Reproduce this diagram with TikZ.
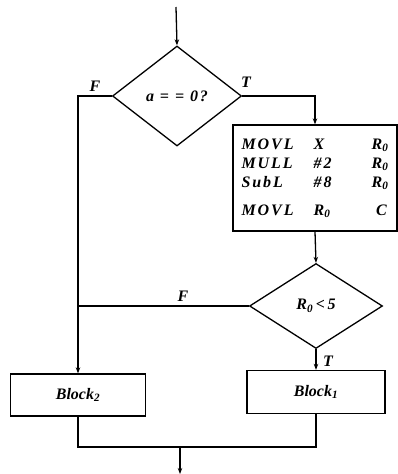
\documentclass[tikz,border=0pt]{standalone}
\usepackage{fontspec}
\setmainfont{Liberation Serif}
\newfontfamily\codefont[LetterSpace=12]{Liberation Serif}
\usetikzlibrary{arrows.meta,positioning,shapes.geometric,calc}
\tikzset{
  blk/.style={draw,rectangle,line width=1.3pt,inner sep=0pt,align=center,
    font=\fontsize{16}{20}\selectfont\bfseries\itshape},
  decblk/.style={draw,diamond,line width=1.3pt,inner sep=0pt,
    font=\codefont\fontsize{16}{20}\selectfont\bfseries\itshape},
  arr/.style={-{Stealth[length=6pt,width=4.5pt]},line width=1.3pt},
  ln/.style={line width=1.3pt},
  lbl/.style={font=\fontsize{16}{18}\selectfont\bfseries\itshape}
}

\begin{document}
\begin{tikzpicture}[x=1pt,y=-1pt]
  \useasboundingbox (0,0) rectangle (398,474);

  \node[decblk, minimum width=129pt, minimum height=100pt] (cond1) at (177,96) {a = = 0?};
  \node[blk, minimum width=164pt, minimum height=106pt] (code) at (315,178) {%
    \codefont\fontsize{16}{20}\selectfont\bfseries\itshape
    \begin{tabular}{@{}p{72pt}@{}p{58pt}@{}l@{}}
      MOVL & X & R\textsubscript{0}\\[-1pt]
      MULL & \#2 & R\textsubscript{0}\\[-1pt]
      SubL & \#8 & R\textsubscript{0}\\[8pt]
      MOVL & R\textsubscript{0} & \;C
    \end{tabular}};
  \node[decblk, minimum width=133pt, minimum height=85pt] (cond2) at (316,306) {R\textsubscript{0}\,<\,5};
  \node[blk, minimum width=135pt, minimum height=42pt] (blk2) at (78,395) {Block\textsubscript{2}};
  \node[blk, minimum width=138pt, minimum height=43pt] (blk1) at (316,392) {Block\textsubscript{1}};

  \coordinate (start) at (176,7);
  \coordinate (join) at (180,447);
  \coordinate (end) at (180,474);

  \draw[arr] (start) -- (cond1.north);
  \draw[arr] (cond1.west) -| (blk2.north);
  \draw[arr] (cond1.east) -| (code.north);
  \draw[arr] (code.south) -- (cond2.north);
  \draw[ln] (cond2.west) -- (cond2.west -| blk2.north);
  \draw[arr] (cond2.south) -- (blk1.north);
  \draw[ln] (blk2.south) |- (join) -| (blk1.south);
  \draw[arr] (join) -- (end);

  \node[lbl] (f1) at (95,86) {F};
  \node[lbl] (t1) at (246,82) {T};
  \node[lbl] (f2) at (183,296) {F};
  \node[lbl] (t2) at (328,361) {T};
\end{tikzpicture}
\end{document}
